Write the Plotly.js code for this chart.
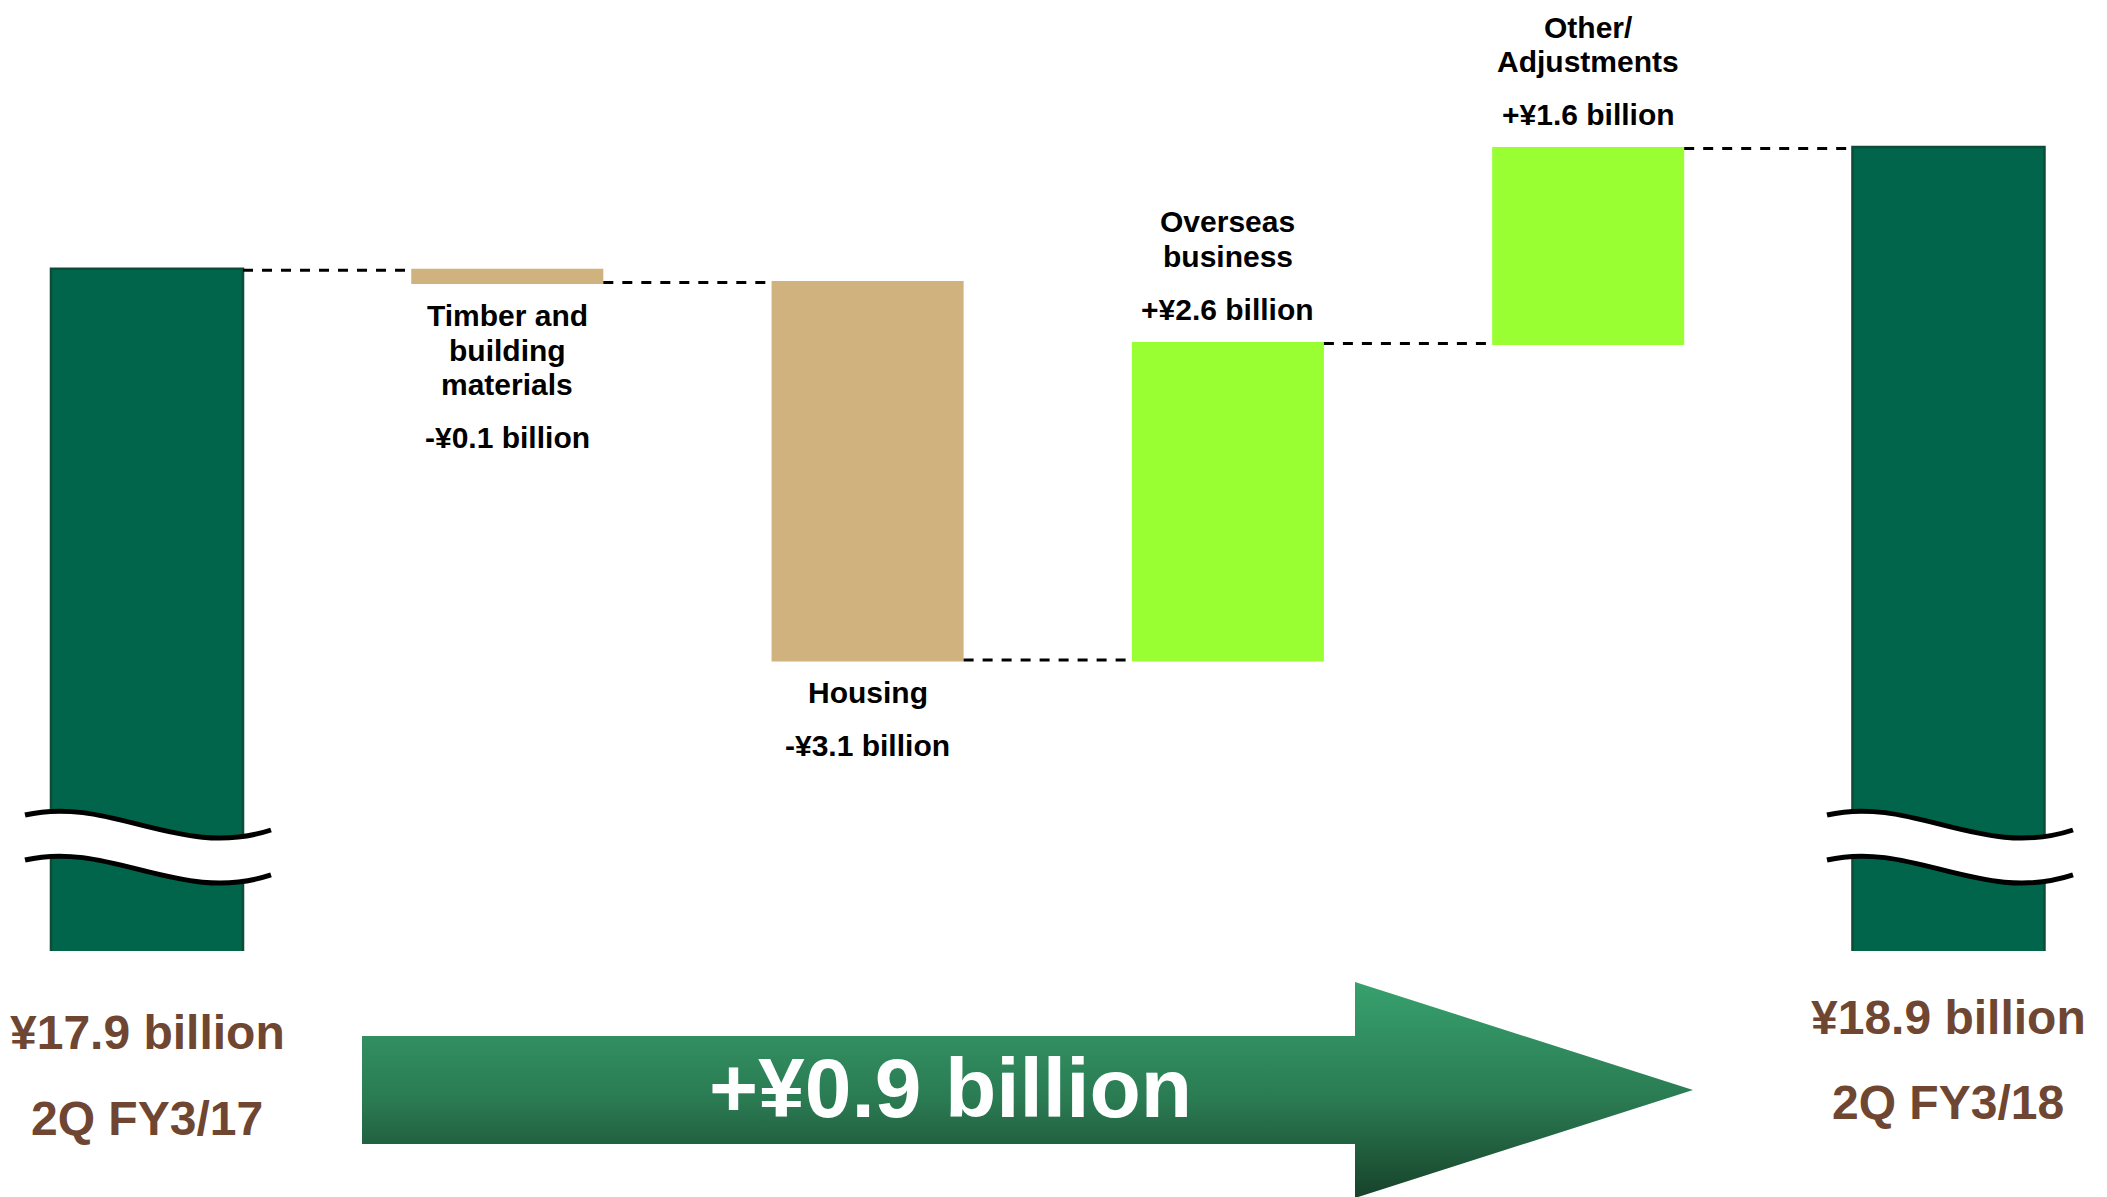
<!DOCTYPE html>
<html>
<head>
<meta charset="utf-8">
<script src="https://cdn.plot.ly/plotly-3.0.1.min.js"></script>
<style>
  html, body { margin: 0; padding: 0; background: #ffffff; }
  #chart { width: 2107px; height: 1197px; }
</style>
</head>
<body>
<div id="chart"></div>
<script>
// Operating income bridge, 2Q FY3/17 -> 2Q FY3/18 (¥ billion)
const categories = ['2Q FY3/17', 'Timber and building materials', 'Housing', 'Overseas business', 'Other/Adjustments', '2Q FY3/18'];
const nameLines = [[], ['Timber and', 'building', 'materials'], ['Housing'], ['Overseas', 'business'], ['Other/', 'Adjustments'], []];
const values = [17.9, -0.1, -3.1, 2.6, 1.6, 18.9];
const measures = ['absolute', 'relative', 'relative', 'relative', 'relative', 'absolute'];
const netChangeLabel = '+¥0.9 billion';

const W = 2107, H = 1197;
const PLOT_BOTTOM = 951;                 // pixel row where the main plot ends
const FONT = 'Liberation Sans, Arial, Helvetica, sans-serif';
const DARK = '#00654A', TAN = '#D0B27E', LIME = '#99FF33', BROWN = '#6E4632';

// running levels for label placement
const levels = [];
let run = 0;
values.forEach((v, i) => {
  const before = run;
  run = measures[i] === 'absolute' ? v : run + v;
  levels.push({ before, after: run });
});

const fmtChange = v => (v >= 0 ? '+' : '-') + '¥' + Math.abs(v).toFixed(1) + ' billion';
const fmtTotal = v => '¥' + v.toFixed(1) + ' billion';

const waterfall = {
  type: 'waterfall',
  x: categories,
  y: values,
  measure: measures,
  width: 0.533,
  textinfo: 'none',
  hoverinfo: 'skip',
  showlegend: false,
  totals: { marker: { color: DARK, line: { color: '#0F4C38', width: 2.5 } } },
  increasing: { marker: { color: LIME, line: { width: 0 } } },
  decreasing: { marker: { color: TAN, line: { width: 0 } } },
  connector: { mode: 'between', line: { color: '#000000', width: 3, dash: '10px,9px' } },
  xaxis: 'x', yaxis: 'y'
};

// big arrow under the bars, drawn in pixel-like coordinates of a second subplot
const arrow = {
  type: 'scatter',
  mode: 'lines',
  x: [362, 1355, 1355, 1693, 1355, 1355, 362, 362],
  y: [1036, 1036, 982, 1090, 1198, 1144, 1144, 1036],
  fill: 'toself',
  fillgradient: {
    type: 'vertical',
    colorscale: [[0, '#17422A'], [0.45, '#2A7A52'], [1, '#37A16D']],
    start: 1198, stop: 982
  },
  line: { width: 0 },
  hoverinfo: 'skip',
  showlegend: false,
  xaxis: 'x2', yaxis: 'y2'
};

// axis break marks
const px = (x, y) => (x / W).toFixed(5) + ',' + ((H - y) / H).toFixed(5);
function breakShapes(dx) {
  const up = [[25, 815], [110, 795], [180, 860], [271, 830]].map(p => [p[0] + dx, p[1]]);
  const lo = up.map(p => [p[0], p[1] + 45]);
  const curve = c => 'M' + px(...c[0]) + ' C' + px(...c[1]) + ' ' + px(...c[2]) + ' ' + px(...c[3]);
  const band = curve(up) + ' L' + px(...lo[3]) + ' C' + px(...lo[2]) + ' ' + px(...lo[1]) + ' ' + px(...lo[0]) + ' Z';
  return [
    { type: 'path', xref: 'paper', yref: 'paper', path: band, fillcolor: '#ffffff', line: { width: 0 }, layer: 'above' },
    { type: 'path', xref: 'paper', yref: 'paper', path: curve(up), line: { color: '#000000', width: 5 }, layer: 'above' },
    { type: 'path', xref: 'paper', yref: 'paper', path: curve(lo), line: { color: '#000000', width: 5 }, layer: 'above' }
  ];
}

const annotations = [];
const labelFont = { family: FONT, size: 30, color: '#000000', weight: 'bold' };
const LINE = 34.5;
values.forEach((v, i) => {
  if (measures[i] === 'absolute') return;
  const lines = nameLines[i];
  const yEnd = levels[i].after;
  if (v < 0) {
    // below the bar end
    lines.forEach((t, k) => annotations.push({
      xref: 'x', yref: 'y', x: i, y: yEnd, yshift: -(33 + k * LINE),
      text: t, showarrow: false, font: labelFont, xanchor: 'center', yanchor: 'middle'
    }));
    annotations.push({
      xref: 'x', yref: 'y', x: i, y: yEnd, yshift: -(33 + (lines.length - 1) * LINE + 53),
      text: fmtChange(v), showarrow: false, font: labelFont, xanchor: 'center', yanchor: 'middle'
    });
  } else {
    // above the bar end
    annotations.push({
      xref: 'x', yref: 'y', x: i, y: yEnd, yshift: 34,
      text: fmtChange(v), showarrow: false, font: labelFont, xanchor: 'center', yanchor: 'middle'
    });
    const n = lines.length;
    lines.forEach((t, k) => annotations.push({
      xref: 'x', yref: 'y', x: i, y: yEnd, yshift: 34 + 53 + (n - 1 - k) * LINE,
      text: t, showarrow: false, font: labelFont, xanchor: 'center', yanchor: 'middle'
    }));
  }
});

// totals under the end bars
const totalFont = { family: FONT, size: 48, color: BROWN, weight: 'bold' };
[[0, 1032, 1118], [5, 1017, 1102]].forEach(([i, yv, yc]) => {
  annotations.push({ xref: 'x', yref: 'paper', x: i, y: (H - yv) / H, text: fmtTotal(values[i]),
    showarrow: false, font: totalFont, xanchor: 'center', yanchor: 'middle' });
  annotations.push({ xref: 'x', yref: 'paper', x: i, y: (H - yc) / H, text: categories[i],
    showarrow: false, font: totalFont, xanchor: 'center', yanchor: 'middle' });
});

annotations.push({ xref: 'x2', yref: 'y2', x: 950, y: 1088, text: netChangeLabel, showarrow: false,
  font: { family: FONT, size: 84, color: '#ffffff', weight: 'bold' }, xanchor: 'center', yanchor: 'middle' });

const split = (H - PLOT_BOTTOM) / H;
const layout = {
  width: W, height: H,
  margin: { l: 0, r: 0, t: 0, b: 0, pad: 0 },
  paper_bgcolor: '#ffffff', plot_bgcolor: 'rgba(0,0,0,0)',
  showlegend: false,
  xaxis: { domain: [0, 1], range: [-0.408, 5.44], visible: false, fixedrange: true },
  yaxis: { domain: [split, 1], range: [12.31, 20.12], visible: false, fixedrange: true },
  xaxis2: { domain: [0, 1], range: [0, W], visible: false, anchor: 'y2' },
  yaxis2: { domain: [0, split], range: [H, PLOT_BOTTOM], visible: false, anchor: 'x2' },
  shapes: [...breakShapes(0), ...breakShapes(1802)],
  annotations
};

Plotly.newPlot('chart', [waterfall, arrow], layout, { staticPlot: true, displayModeBar: false });
</script>
</body>
</html>
